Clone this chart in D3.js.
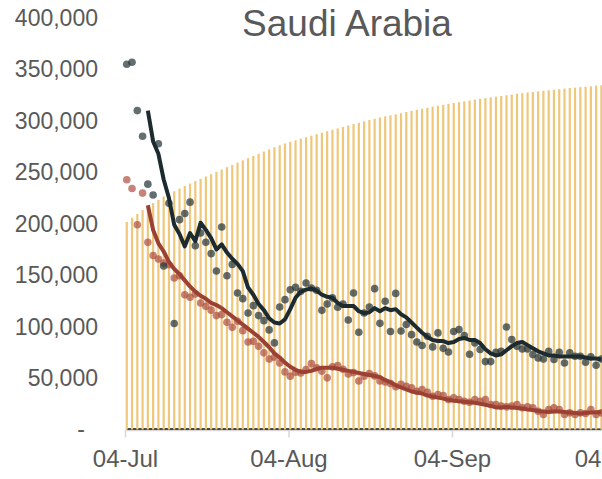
<!DOCTYPE html>
<html>
<head>
<meta charset="utf-8">
<script src="https://cdn.jsdelivr.net/npm/d3@7"></script>
<style>
  body { margin: 0; background: #fff; overflow: hidden; }
  svg { display: block; font-family: "Liberation Sans", Arial, sans-serif; }
</style>
</head>
<body>
<svg id="chart" width="602" height="479"></svg>
<script>
"use strict";

// DATA (thousands) - one value per day starting 04-Jul
const startDay = new Date(2020, 6, 4);
const days = d3.timeDay.range(startDay, new Date(2020, 9, 3));
const tickDays = [new Date(2020, 6, 4), new Date(2020, 7, 4), new Date(2020, 8, 4), new Date(2020, 9, 4)];
const yTicks = [0, 50000, 100000, 150000, 200000, 250000, 300000, 350000, 400000];

const totalCases = [
	201.8, 205.9, 209.5, 213.3, 217.1, 220.1, 223.3, 226.5, 229.0, 231.6,
	234.2, 236.7, 239.1, 241.5, 243.6, 245.9, 248.2, 250.5, 252.8, 255.0,
	257.2, 259.4, 261.6, 263.7, 265.9, 268.0, 270.2, 272.3, 274.4, 276.3,
	278.0, 279.6, 281.1, 282.6, 284.1, 285.6, 287.1, 288.5, 289.9, 291.3,
	292.7, 294.1, 295.5, 296.9, 298.2, 299.5, 300.8, 302.0, 303.2, 304.3,
	305.4, 306.4, 307.5, 308.6, 309.7, 310.7, 311.8, 312.8, 313.8, 314.7,
	315.6, 316.5, 317.4, 318.2, 319.0, 319.8, 320.6, 321.4, 322.1, 322.8,
	323.5, 324.2, 324.9, 325.6, 326.3, 326.9, 327.6, 328.1, 328.7, 329.3,
	329.8, 330.3, 330.8, 331.4, 331.9, 332.3, 332.8, 333.2, 333.6, 334.2, 334.6
];

const darkDots = [
	355, 357, 310, 285, 238.5, 228, 277.7, 159, 220, 103,
	204, 210, 221, 178.6, 191, 182, 171, 154, 196.8, 149.5,
	160.5, 132.7, 127.2, 113.3, 120.4, 110.7, 105.8, 96.8, 84.2, 119.1,
	126.2, 135.9, 138.2, 134.3, 142.4, 137.6, 135.3, 115.8, 122, 127.9,
	118.8, 122, 106.5, 132.7, 94.5, 113.3, 119.1, 136.9, 103.2, 124.6,
	95.2, 132.3, 95.8, 102, 92.2, 85.1, 81.6, 90.6, 80.3, 93.9,
	78.9, 75.4, 95.2, 97.1, 91.3, 73.1, 84.2, 77.7, 66, 66,
	75, 76, 99.7, 87.4, 80.9, 78.3, 78.3, 72.8, 69.6, 68.6,
	76, 68, 75, 64.7, 74.5, 71.2, 71.2, 65.3, 70.6, 62.4, 68.6
];

const redDots = [
	242.7, 234.3, 199, 229.8, 181.9, 169.2, 165.7, 161.9, 160.2, 147.3,
	149.5, 131, 128.5, 131.8, 123, 119.7, 116, 110.7, 111.7, 104.2,
	99.3, 105.2, 96.1, 85.1, 85.7, 80.9, 74.5, 68.6, 70.2, 64.7,
	56, 51.8, 55.6, 55, 58.3, 64, 60, 56.6, 50.2, 60.9,
	62.1, 58.6, 53.9, 55.3, 47.2, 51.8, 54.4, 52.1, 47.2, 46.1,
	44.7, 41.5, 44, 42, 40.5, 37.2, 38.8, 36.2, 32.3, 34,
	33, 29.1, 30.8, 29.1, 27.5, 26.5, 29.1, 27.5, 29.1, 24.3,
	24.3, 22.7, 22, 22.7, 24.3, 21.1, 22, 21.1, 17.8, 14.6,
	19.4, 21.1, 19.4, 14.6, 16.2, 14.6, 16.2, 15.5, 19.4, 14.6, 16.2
];

// smoothed lines start on the 5th day
const darkLine = [
	null, null, null, null,
	310, 280, 268, 243, 225, 199, 190, 178, 191, 183,
	201, 194, 186, 175, 180, 172, 166, 161, 154, 138,
	131, 122, 116, 108, 104, 103, 107, 117, 128, 134,
	136, 137, 135, 131, 129, 128, 123, 120, 120, 120,
	115, 113, 114, 118, 115, 118, 116, 117, 112, 109,
	104, 99, 94, 90, 87, 86, 86, 84, 85, 88,
	89, 87, 87, 84, 78, 74, 72, 73, 77, 81,
	84, 85, 82, 79, 76, 74, 72, 72, 71, 71,
	71, 71, 71, 70, 69, 69, 68
];

const redLine = [
	null, null, null, null,
	218, 194, 181, 173, 163, 156, 151, 145, 139, 134,
	130, 127, 123, 121, 118, 114, 110, 106, 102, 98,
	94, 90, 85, 80, 74, 70, 65, 61, 58, 56,
	56, 57, 59, 60, 60, 60, 59, 58, 57, 56,
	55, 54, 53, 52, 51, 48, 46, 43, 41, 39,
	37, 36, 35, 33, 32, 31, 30, 29, 28, 27.5,
	27, 26.5, 26, 25, 24, 23, 21.5, 21.5, 22, 21.5,
	21, 20.5, 19.5, 19, 18, 17.5, 17, 17.5, 17.5, 17,
	16.5, 16, 15.5, 16, 16.5, 16.8, 17
];

// near-zero series along the baseline
const deaths = [
	0.05, 0.05, 0.05, 0.05, 0.05, 0.05, 0.04, 0.04, 0.04, 0.04,
	0.04, 0.04, 0.04, 0.04, 0.04, 0.04, 0.04, 0.04, 0.04, 0.04,
	0.04, 0.04, 0.03, 0.03, 0.03, 0.03, 0.03, 0.03, 0.03, 0.03,
	0.03, 0.03, 0.03, 0.03, 0.03, 0.03, 0.03, 0.03, 0.03, 0.03,
	0.03, 0.03, 0.03, 0.03, 0.03, 0.03, 0.03, 0.03, 0.03, 0.03,
	0.03, 0.03, 0.03, 0.03, 0.03, 0.03, 0.03, 0.03, 0.03, 0.03,
	0.03, 0.03, 0.03, 0.03, 0.03, 0.03, 0.03, 0.03, 0.03, 0.03,
	0.03, 0.03, 0.03, 0.02, 0.02, 0.02, 0.02, 0.02, 0.02, 0.02,
	0.02, 0.02, 0.02, 0.02, 0.02, 0.02, 0.02, 0.02, 0.02, 0.02, 0.02
];

const textColor = "#595959";
const step = 5.274;

const svg = d3.select("#chart");

const x = d3.scaleTime()
	.domain([tickDays[0], tickDays[3]])
	.range([125, 125 + 92 * step]);
const y = d3.scaleLinear().domain([0, 400000]).range([429.5, 18]);

// place a day's marks a little right of its tick
const xd = (i) => x(d3.timeHour.offset(days[i], 8));
const k = (v) => v * 1000;

// Title
svg.append("text")
	.attr("x", 347)
	.attr("y", 36)
	.attr("text-anchor", "middle")
	.style("font-size", "37px")
	.style("fill", textColor)
	.text("Saudi Arabia");

// Y axis
const yAxis = svg.append("g")
	.attr("transform", "translate(98,0)")
	.call(d3.axisLeft(y).tickValues(yTicks).tickSize(0).tickPadding(0)
		.tickFormat((d) => (d === 0 ? "-" : d3.format(",")(d))));
yAxis.select(".domain").remove();
yAxis.selectAll("text")
	.style("font-size", "23px")
	.style("font-family", "'Liberation Sans', Arial, sans-serif")
	.style("fill", textColor);
yAxis.selectAll(".tick")
	.filter((d) => d === 0)
	.select("text")
	.attr("x", -13);

// Black baseline series (under the bars)
svg.append("path")
	.datum(deaths)
	.attr("d", d3.line().x((d, i) => xd(i)).y((d) => y(k(d))))
	.style("fill", "none")
	.style("stroke", "#111")
	.style("stroke-width", 2.2);

// Bars
svg.append("g")
	.selectAll("rect")
	.data(totalCases)
	.join("rect")
	.attr("x", (d, i) => xd(i) - 1.1)
	.attr("width", 2.2)
	.attr("y", (d) => y(k(d)))
	.attr("height", (d) => y(0) - y(k(d)))
	.style("fill", "#efc77b");

// X axis
const xAxis = svg.append("g")
	.attr("transform", "translate(0,430.5)")
	.call(d3.axisBottom(x).tickValues(tickDays).tickSize(7).tickPadding(12)
		.tickFormat(d3.timeFormat("%d-%b")));
xAxis.select(".domain")
	.attr("d", "M125,0H610")
	.style("stroke", "#d9d9d9")
	.style("stroke-width", 1.6);
xAxis.selectAll(".tick line")
	.style("stroke", "#d9d9d9")
	.style("stroke-width", 1.6);
xAxis.selectAll("text")
	.style("font-size", "24px")
	.style("font-family", "'Liberation Sans', Arial, sans-serif")
	.style("fill", textColor);

// Dots
svg.append("g")
	.selectAll("circle")
	.data(redDots)
	.join("circle")
	.attr("cx", (d, i) => xd(i))
	.attr("cy", (d) => y(k(d)))
	.attr("r", 3.8)
	.style("fill", "#a9483b")
	.style("opacity", 0.68);

svg.append("g")
	.selectAll("circle")
	.data(darkDots)
	.join("circle")
	.attr("cx", (d, i) => xd(i))
	.attr("cy", (d) => y(k(d)))
	.attr("r", 3.8)
	.style("fill", "#27363a")
	.style("opacity", 0.72);

// Smoothed lines
const lineGen = d3.line()
	.defined((d) => d !== null)
	.x((d, i) => xd(i))
	.y((d) => y(k(d)));

svg.append("path")
	.datum(redLine)
	.attr("d", lineGen)
	.style("fill", "none")
	.style("stroke", "#9b4134")
	.style("stroke-width", 4)
	.style("stroke-linejoin", "round");

svg.append("path")
	.datum(darkLine)
	.attr("d", lineGen)
	.style("fill", "none")
	.style("stroke", "#1c2b2f")
	.style("stroke-width", 4)
	.style("stroke-linejoin", "round");
</script>
</body>
</html>
